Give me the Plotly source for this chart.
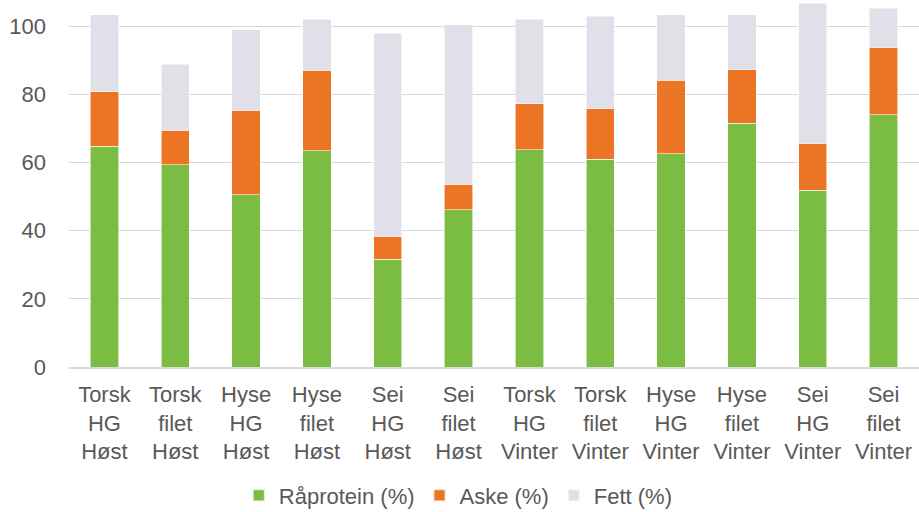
import plotly.graph_objects as go

categories = ["Torsk<br>HG<br>Høst", "Torsk<br>filet<br>Høst", "Hyse<br>HG<br>Høst", "Hyse<br>filet<br>Høst",
              "Sei<br>HG<br>Høst", "Sei<br>filet<br>Høst", "Torsk<br>HG<br>Vinter", "Torsk<br>filet<br>Vinter",
              "Hyse<br>HG<br>Vinter", "Hyse<br>filet<br>Vinter", "Sei<br>HG<br>Vinter", "Sei<br>filet<br>Vinter"]
raprotein = [64.8, 59.4, 50.6, 63.5, 31.6, 46.2, 63.8, 60.9, 62.6, 71.6, 51.8, 74.1]
aske = [16.0, 10.1, 24.7, 23.6, 6.7, 7.4, 13.5, 14.9, 21.6, 15.6, 13.8, 19.8]
fett = [22.6, 19.4, 23.7, 14.9, 59.6, 46.9, 24.8, 27.1, 19.1, 16.1, 41.2, 11.4]
tick_vals = [0, 20, 40, 60, 80, 100]

series = [("Råprotein (%)", raprotein, "#7BBC43"),
          ("Aske (%)", aske, "#EB7425"),
          ("Fett (%)", fett, "#E0E0E8")]

fig = go.Figure()
for name, vals, col in series:
    fig.add_trace(go.Bar(x=categories, y=vals, name=name,
                         marker=dict(color=col, line=dict(color="rgba(255,255,255,0.7)", width=0.8))))

font = dict(family="Liberation Sans, Arial, sans-serif", size=22, color="#595959")
fig.update_layout(
    barmode="stack", bargap=0.6,
    width=919, height=512,
    margin=dict(l=69, r=0, t=0, b=145, autoexpand=False),
    plot_bgcolor="white", paper_bgcolor="white",
    font=font,
    showlegend=True,
    legend=dict(orientation="h", x=0.458, xanchor="center", y=-0.293, yanchor="top",
                font=font, itemwidth=30, traceorder="normal", itemsizing="constant"),
    yaxis=dict(range=[0, 107.7], tickvals=tick_vals, showgrid=True, gridcolor="#D9D9D9",
               gridwidth=1.3, zeroline=False, showline=False, ticks="", ticklabelstandoff=22,
               tickfont=font, automargin=False),
    xaxis=dict(showline=True, linecolor="#D9D9D9", linewidth=1.5, ticks="", tickfont=font,
               tickangle=0, automargin=False, ticklabelstandoff=7),
)
fig.write_html("out.html", config={"displayModeBar": False},
               post_script="document.body.style.margin='0px';document.body.style.overflow='hidden';")
